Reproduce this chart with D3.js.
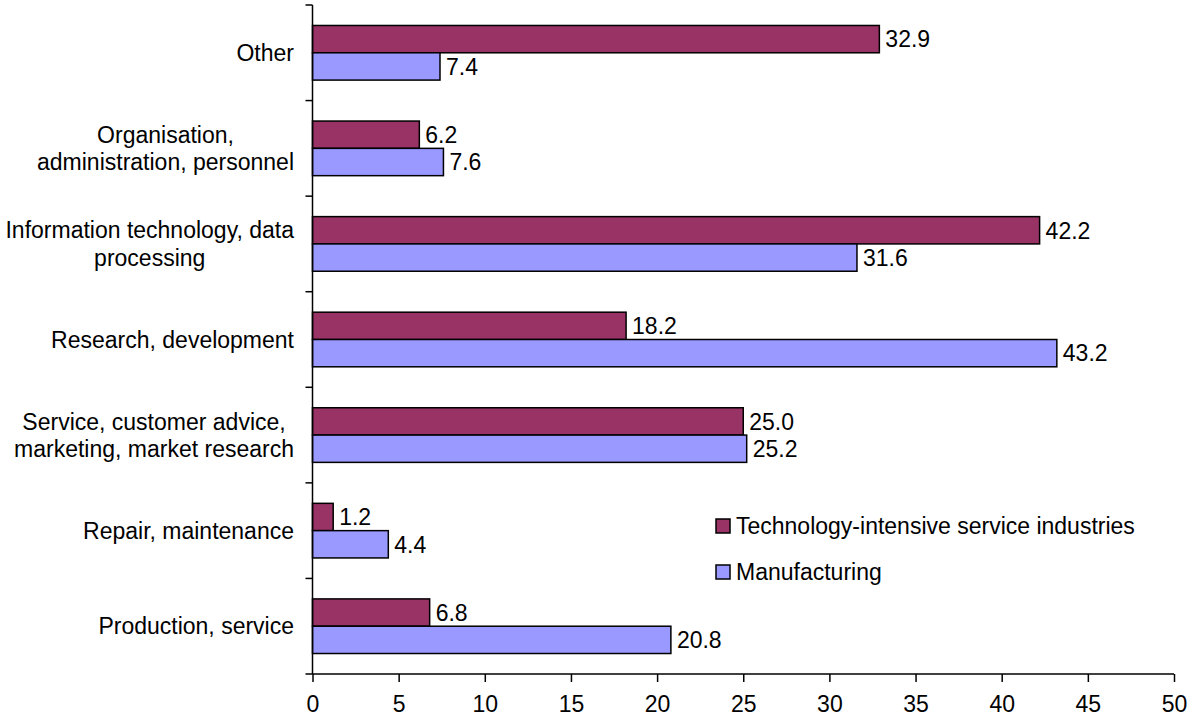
<!DOCTYPE html>
<html>
<head>
<meta charset="utf-8">
<script src="https://cdn.jsdelivr.net/npm/d3@7"></script>
<style>
  html, body { margin: 0; padding: 0; background: #fff; }
  svg { display: block; font-family: Arial, "Liberation Sans", sans-serif; }
</style>
</head>
<body>
<svg id="chart" width="1189" height="719"></svg>
<script>
// Categories listed top to bottom
const categories = [
  ["Other"],
  ["Organisation,", "administration, personnel"],
  ["Information technology, data", "processing"],
  ["Research, development"],
  ["Service, customer advice,", "marketing, market research"],
  ["Repair, maintenance"],
  ["Production, service"]
];
const seriesNames = ["Technology-intensive service industries", "Manufacturing"];
const techValues = [32.9, 6.2, 42.2, 18.2, 25.0, 1.2, 6.8];
const manufValues = [7.4, 7.6, 31.6, 43.2, 25.2, 4.4, 20.8];
const xTicks = [0, 5, 10, 15, 20, 25, 30, 35, 40, 45, 50];
const colors = ["#993366", "#9999FF"];

const FS = 23;
const svg = d3.select("#chart");
const plotTop = 5, plotBottom = 674;

const x = d3.scaleLinear().domain([0, 50]).range([312.5, 1174]);
const y = d3.scaleBand().domain(d3.range(categories.length))
  .range([plotTop, plotBottom]).paddingInner(0).paddingOuter(0);
const inner = d3.scaleBand().domain([0, 1]).range([0, y.bandwidth()])
  .paddingInner(0).paddingOuter(0.75);

const series = [techValues, manufValues];

// Bars and value labels
series.forEach((vals, si) => {
  svg.append("g").selectAll("rect").data(vals).join("rect")
    .attr("x", x(0))
    .attr("y", (d, i) => y(i) + inner(si))
    .attr("width", d => x(d) - x(0))
    .attr("height", inner.bandwidth())
    .attr("fill", colors[si])
    .attr("stroke", "#000")
    .attr("stroke-width", 1.5);

  svg.append("g").selectAll("text").data(vals).join("text")
    .attr("x", d => x(d) + 6)
    .attr("y", (d, i) => y(i) + inner(si) + inner.bandwidth() / 2)
    .attr("dy", "0.36em")
    .attr("font-size", FS)
    .attr("fill", "#000")
    .text(d => d.toFixed(1));
});

// X axis
const xAxis = d3.axisBottom(x).tickValues(xTicks).tickSize(8).tickPadding(14)
  .tickFormat(d3.format("d"));
const gx = svg.append("g").attr("transform", `translate(0,${plotBottom})`).call(xAxis);
gx.select(".domain").remove();
gx.append("line").attr("x1", x(0) - 7).attr("x2", x(50)).attr("y1", 0).attr("y2", 0)
  .attr("stroke", "#000").attr("stroke-width", 1.5);
gx.selectAll(".tick line").attr("stroke", "#000").attr("stroke-width", 1.5);
gx.selectAll(".tick text").attr("font-size", FS).attr("fill", "#000")
  .attr("font-family", "Arial, 'Liberation Sans', sans-serif");

// Y axis line and category boundary ticks
const gy = svg.append("g");
gy.append("line").attr("x1", x(0)).attr("x2", x(0))
  .attr("y1", plotTop).attr("y2", plotBottom)
  .attr("stroke", "#000").attr("stroke-width", 1.5);
gy.selectAll("line.tk").data(d3.range(categories.length)).join("line")
  .attr("class", "tk")
  .attr("x1", x(0) - 7).attr("x2", x(0))
  .attr("y1", i => y(i)).attr("y2", i => y(i))
  .attr("stroke", "#000").attr("stroke-width", 1.5);

// Category labels: lines centred within a block that is right-aligned to the axis
const lineH = 27.5;
const labelRight = 294;
const lab = svg.append("g").selectAll("text").data(categories).join("text")
  .attr("text-anchor", "middle")
  .attr("font-size", FS)
  .attr("fill", "#000");
lab.each(function(lines, i) {
  const cy = y(i) + y.bandwidth() / 2;
  const t = d3.select(this);
  const spans = lines.map((ln, k) => t.append("tspan")
    .attr("y", cy + (k - (lines.length - 1) / 2) * lineH)
    .attr("dy", "0.36em")
    .text(ln));
  const maxW = d3.max(spans, s => s.node().getComputedTextLength());
  spans.forEach(s => s.attr("x", labelRight - maxW / 2));
});

// Legend
const legend = svg.append("g");
seriesNames.forEach((name, i) => {
  const ly = 526 + i * 46;
  legend.append("rect")
    .attr("x", 716).attr("y", ly - 7).attr("width", 14).attr("height", 14)
    .attr("fill", colors[i]).attr("stroke", "#000").attr("stroke-width", 1.5);
  legend.append("text")
    .attr("x", 736).attr("y", ly).attr("dy", "0.36em")
    .attr("font-size", FS).attr("fill", "#000")
    .text(name);
});
</script>
</body>
</html>
